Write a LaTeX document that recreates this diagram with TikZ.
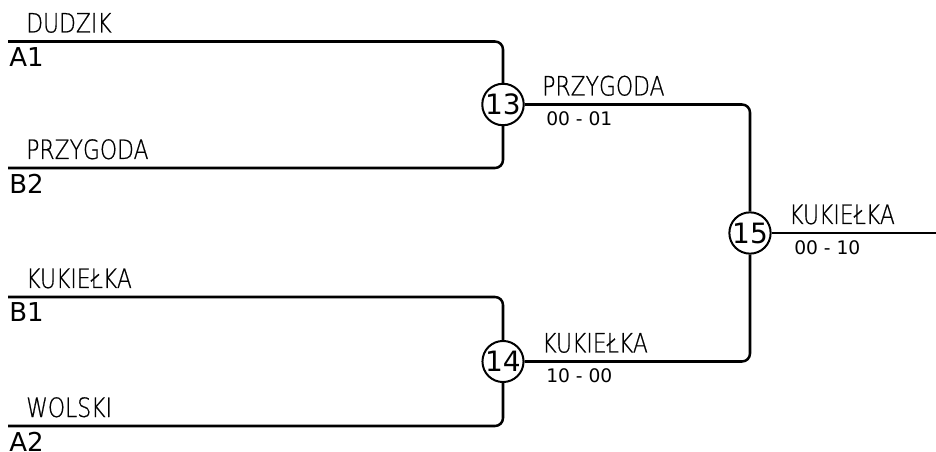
\documentclass[tikz,border=0pt]{standalone}
\usepackage{fontspec}
\setmainfont{DejaVu Sans}
\newfontfamily\lightfont[FakeStretch=0.82, FakeBold=0.6]{DejaVu Sans ExtraLight}
\usepackage{tikz}
\usetikzlibrary{positioning}

\tikzset{
	wire/.style={line width=1.9pt, rounded corners=6pt},
	game/.style={shape=circle, draw, line width=1.5pt, inner sep=0pt, minimum size=29pt, font=\fontsize{21}{23}\selectfont},
	player/.style={anchor=base west, inner sep=0pt, font=\lightfont\fontsize{20}{22}\selectfont},
	seed/.style={anchor=north west, inner sep=0pt, font=\fontsize{19.5}{21}\selectfont},
	score/.style={anchor=north west, inner sep=0pt, font=\fontsize{14}{16}\selectfont}
}

\begin{document}
\begin{tikzpicture}[x=0.75pt, y=-0.75pt]
	% Frame:
	\useasboundingbox (0, 0) rectangle (936, 452);

	% Games:
	\node[game](M13) at (503, 104.5){13};
	\node[game](M14) at (503, 361.5){14};
	\node[game](M15) at (750, 233){15};

	% Line ends:
	\coordinate (P1) at (8, 41.5);
	\coordinate (P2) at (8, 168);
	\coordinate (P3) at (8, 297);
	\coordinate (P4) at (8, 426);
	\coordinate (W) at (936, 233);

	% Wires:
	\draw[wire] (P1) -| (M13);
	\draw[wire] (P2) -| (M13);
	\draw[wire] (P3) -| (M14);
	\draw[wire] (P4) -| (M14);
	\draw[wire] (M13) -| (M15);
	\draw[wire] (M14) -| (M15);
	\draw[wire] (M15) -- (W);

	% Players and seeds:
	\node[player](N1) at (26, 32.5){DUDZIK};
	\node[seed](S1) at (9, 47){A1};
	\node[player](N2) at (26, 159){PRZYGODA};
	\node[seed](S2) at (9, 173.5){B2};
	\node[player](N3) at (26, 288){KUKIEŁKA};
	\node[seed](S3) at (9, 302.5){B1};
	\node[player](N4) at (26, 417){WOLSKI};
	\node[seed](S4) at (9, 431.5){A2};

	% Winners and scores:
	\node[player](N5) at (542, 95.5){PRZYGODA};
	\node[score](R13) at (546, 111.5){00 - 01};
	\node[player](N6) at (542, 352.5){KUKIEŁKA};
	\node[score](R14) at (546, 368.5){10 - 00};
	\node[player](N7) at (789, 224){KUKIEŁKA};
	\node[score](R15) at (794, 240){00 - 10};
\end{tikzpicture}
\end{document}
